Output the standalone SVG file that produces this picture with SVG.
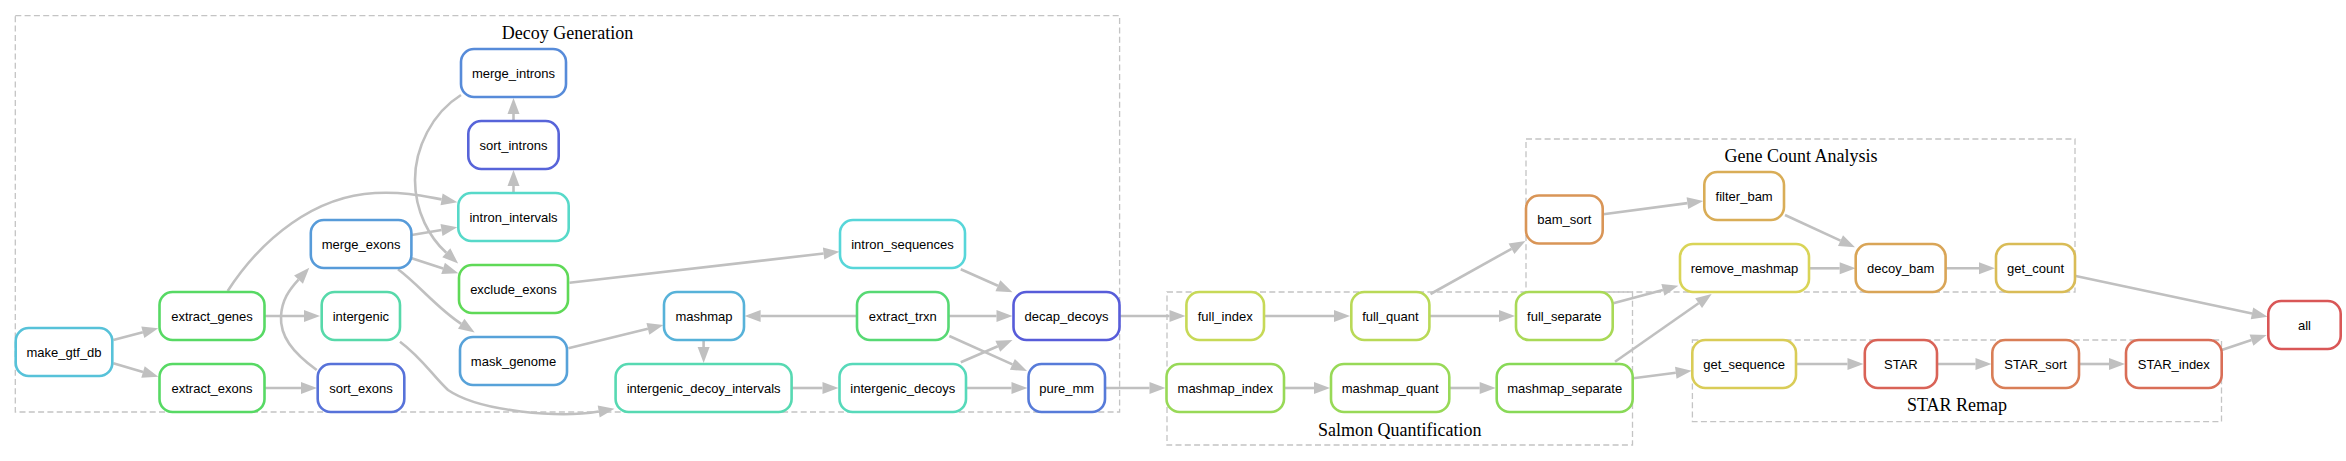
<svg xmlns="http://www.w3.org/2000/svg" width="2346" height="461" viewBox="0 0 2346 461">
<style>
.bg{fill:#ffffff}
.cluster rect{fill:none;stroke:#c4c4c4;stroke-width:1.3;stroke-dasharray:6 3.3}
.cluster text{font-family:"Liberation Serif","Times New Roman",serif;font-size:18px;fill:#000;text-anchor:middle}
.node rect{fill:#ffffff;stroke-width:2.6}
.node text{font-family:"Liberation Sans",Arial,sans-serif;font-size:13px;fill:#000;text-anchor:middle}
.edges path{fill:none;stroke:#c0c0c0;stroke-width:2.6;marker-end:url(#arr)}
</style>
<defs>
<marker id="arr" markerUnits="userSpaceOnUse" markerWidth="17" markerHeight="13" refX="0" refY="6" orient="auto" overflow="visible">
<path d="M0,0 L16,6 L0,12 z" fill="#c0c0c0"/>
</marker>
</defs>
<rect class="bg" x="0" y="0" width="2346" height="461"/>

<g id="clusters">
<g class="cluster" id="cluster_decoy"><rect x="15.3" y="15.7" width="1104.3" height="396.3"/><text x="567.5" y="39">Decoy Generation</text></g>
<g class="cluster" id="cluster_salmon"><rect x="1167" y="292" width="465.5" height="153"/><text x="1399.7" y="435.5">Salmon Quantification</text></g>
<g class="cluster" id="cluster_gene"><rect x="1526" y="139" width="549" height="153"/><text x="1801" y="161.5">Gene Count Analysis</text></g>
<g class="cluster" id="cluster_star"><rect x="1692.4" y="340" width="529.1" height="81.6"/><text x="1957" y="410.7">STAR Remap</text></g>
</g>

<g class="edges" id="edges">
<path d="M113.3,340 L142.8,332.3"/>
<path d="M113.3,363.3 L143,372.1"/>
<path d="M265,316 L304,316"/>
<path d="M227.7,291 C262,238 315,196 375,193 C405,191.5 425,196.4 441.6,199.4"/>
<path d="M265,388 L301,388"/>
<path d="M316.7,370 C292,352 280,336 281,316 C282,300 289,290 298.5,279.6"/>
<path d="M411.7,235 L441.5,230"/>
<path d="M411.7,258.3 L443.1,268.4"/>
<path d="M398,269.3 C418,284 438,309 461.2,323.8"/>
<path d="M513.5,193.3 L513.5,186"/>
<path d="M513.5,121 L513.5,114"/>
<path d="M461,95 C432,113 415,148 415,180 C415,212 430,238 446.3,252.8"/>
<path d="M400,341.7 C422,358 432,375 448,390 C480,412 560,418 598.7,411.5"/>
<path d="M569.5,282.7 L823.6,253.5"/>
<path d="M568.3,348.3 L647.9,328.8"/>
<path d="M703.6,340.3 L703.6,347"/>
<path d="M856.3,316 L760.6,316"/>
<path d="M949,316 L996.5,316"/>
<path d="M949.3,336 L1012.4,364.4"/>
<path d="M960.8,269.3 L997.9,285.8"/>
<path d="M792,388 L822.5,388"/>
<path d="M960.8,362.3 L997.8,346.3"/>
<path d="M966,388 L1011.5,388"/>
<path d="M1120,316 L1169.5,316"/>
<path d="M1105.5,388 L1149.5,388"/>
<path d="M1264.5,316 L1334,316"/>
<path d="M1430,316 L1499,316"/>
<path d="M1430.5,294 L1511.5,248.8"/>
<path d="M1284.5,388 L1314,388"/>
<path d="M1450,388 L1479.7,388"/>
<path d="M1613.3,303.3 L1662.9,289.9"/>
<path d="M1615,361.7 L1698.6,303.2"/>
<path d="M1633.3,378.3 L1675.8,372.8"/>
<path d="M1603.3,214.3 L1687.4,203.1"/>
<path d="M1785,215 L1840.5,240.6"/>
<path d="M1809,268.3 L1839.7,268.3"/>
<path d="M1945.5,268.3 L1979,268.3"/>
<path d="M2075.7,276 L2252,313.4"/>
<path d="M1796.5,364 L1847.5,364"/>
<path d="M1938,364 L1975.5,364"/>
<path d="M2079,364 L2109,364"/>
<path d="M2221.7,350 L2251.5,340.1"/>
</g>

<g class="node" id="make_gtf_db"><rect x="15.7" y="328" width="96.6" height="48" rx="13" stroke="#57C2D9"/><text x="64" y="356.6">make_gtf_db</text></g>
<g class="node" id="extract_genes"><rect x="159.5" y="292" width="105" height="48" rx="13" stroke="#57D964"/><text x="212" y="320.6">extract_genes</text></g>
<g class="node" id="extract_exons"><rect x="159.5" y="364" width="105" height="48" rx="13" stroke="#57D964"/><text x="212" y="392.6">extract_exons</text></g>
<g class="node" id="merge_exons"><rect x="310.8" y="220" width="100.6" height="48" rx="13" stroke="#579BD9"/><text x="361.1" y="248.6">merge_exons</text></g>
<g class="node" id="intergenic"><rect x="321.7" y="292" width="78.3" height="48" rx="13" stroke="#57D9AA"/><text x="360.85" y="320.6">intergenic</text></g>
<g class="node" id="sort_exons"><rect x="317.7" y="364" width="86.6" height="48" rx="13" stroke="#5772D9"/><text x="361" y="392.6">sort_exons</text></g>
<g class="node" id="merge_introns"><rect x="461" y="49" width="105" height="48" rx="13" stroke="#578BD9"/><text x="513.5" y="77.6">merge_introns</text></g>
<g class="node" id="sort_introns"><rect x="468.3" y="121" width="90.4" height="48" rx="13" stroke="#5764D9"/><text x="513.5" y="149.6">sort_introns</text></g>
<g class="node" id="intron_intervals"><rect x="458.3" y="193" width="110.4" height="48" rx="13" stroke="#57D9C9"/><text x="513.5" y="221.6">intron_intervals</text></g>
<g class="node" id="exclude_exons"><rect x="459" y="265" width="109" height="48" rx="13" stroke="#5FD957"/><text x="513.5" y="293.6">exclude_exons</text></g>
<g class="node" id="mask_genome"><rect x="460" y="337" width="107" height="48" rx="13" stroke="#57A2D9"/><text x="513.5" y="365.6">mask_genome</text></g>
<g class="node" id="intron_sequences"><rect x="840" y="220" width="125" height="48" rx="13" stroke="#57D6D9"/><text x="902.5" y="248.6">intron_sequences</text></g>
<g class="node" id="mashmap"><rect x="664" y="292" width="80" height="48" rx="13" stroke="#57B2D9"/><text x="704" y="320.6">mashmap</text></g>
<g class="node" id="extract_trxn"><rect x="857" y="292" width="91.5" height="48" rx="13" stroke="#57D974"/><text x="902.75" y="320.6">extract_trxn</text></g>
<g class="node" id="decap_decoys"><rect x="1013.5" y="292" width="106" height="48" rx="13" stroke="#575CD9"/><text x="1066.5" y="320.6">decap_decoys</text></g>
<g class="node" id="intergenic_decoy_intervals"><rect x="615.6" y="364" width="176" height="48" rx="13" stroke="#57D9B2"/><text x="703.6" y="392.6">intergenic_decoy_intervals</text></g>
<g class="node" id="intergenic_decoys"><rect x="839.5" y="364" width="126.5" height="48" rx="13" stroke="#57D9BA"/><text x="902.75" y="392.6">intergenic_decoys</text></g>
<g class="node" id="pure_mm"><rect x="1028.5" y="364" width="76.5" height="48" rx="13" stroke="#577BD9"/><text x="1066.75" y="392.6">pure_mm</text></g>
<g class="node" id="full_index"><rect x="1186.4" y="292" width="77.6" height="48" rx="13" stroke="#C7D957"/><text x="1225.2" y="320.6">full_index</text></g>
<g class="node" id="full_quant"><rect x="1351.3" y="292" width="78.1" height="48" rx="13" stroke="#B9D957"/><text x="1390.35" y="320.6">full_quant</text></g>
<g class="node" id="full_separate"><rect x="1516" y="292" width="96.7" height="48" rx="13" stroke="#A9D957"/><text x="1564.35" y="320.6">full_separate</text></g>
<g class="node" id="mashmap_index"><rect x="1166.5" y="364" width="117.5" height="48" rx="13" stroke="#98D957"/><text x="1225.25" y="392.6">mashmap_index</text></g>
<g class="node" id="mashmap_quant"><rect x="1331" y="364" width="118.3" height="48" rx="13" stroke="#98D957"/><text x="1390.15" y="392.6">mashmap_quant</text></g>
<g class="node" id="mashmap_separate"><rect x="1496.7" y="364" width="136" height="48" rx="13" stroke="#88D957"/><text x="1564.7" y="392.6">mashmap_separate</text></g>
<g class="node" id="bam_sort"><rect x="1526" y="195.5" width="76.7" height="48" rx="13" stroke="#D99557"/><text x="1564.35" y="224.1">bam_sort</text></g>
<g class="node" id="filter_bam"><rect x="1704.3" y="172" width="79.7" height="48" rx="13" stroke="#D9AD57"/><text x="1744.15" y="200.6">filter_bam</text></g>
<g class="node" id="remove_mashmap"><rect x="1680" y="244" width="129" height="48" rx="13" stroke="#D9D457"/><text x="1744.5" y="272.6">remove_mashmap</text></g>
<g class="node" id="decoy_bam"><rect x="1855.7" y="244" width="89.9" height="48" rx="13" stroke="#D9A557"/><text x="1900.65" y="272.6">decoy_bam</text></g>
<g class="node" id="get_count"><rect x="1996" y="244" width="79" height="48" rx="13" stroke="#D9BC57"/><text x="2035.5" y="272.6">get_count</text></g>
<g class="node" id="get_sequence"><rect x="1692.3" y="340" width="103.7" height="48" rx="13" stroke="#D9CC57"/><text x="1744.15" y="368.6">get_sequence</text></g>
<g class="node" id="STAR"><rect x="1864.8" y="340" width="72.2" height="48" rx="13" stroke="#D96357"/><text x="1900.9" y="368.6">STAR</text></g>
<g class="node" id="STAR_sort"><rect x="1992.3" y="340" width="86.7" height="48" rx="13" stroke="#D97E57"/><text x="2035.65" y="368.6">STAR_sort</text></g>
<g class="node" id="STAR_index"><rect x="2126" y="340" width="95.7" height="48" rx="13" stroke="#D96E57"/><text x="2173.85" y="368.6">STAR_index</text></g>
<g class="node" id="all"><rect x="2268.3" y="301" width="72.4" height="48" rx="13" stroke="#D95757"/><text x="2304.5" y="329.6">all</text></g>
</svg>
